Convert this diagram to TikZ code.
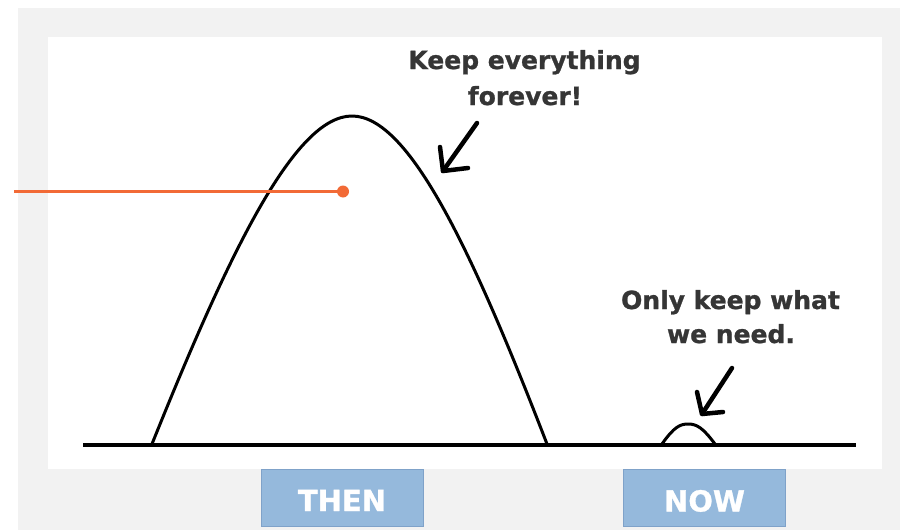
\documentclass[tikz,border=0pt]{standalone}
\usepackage{fontspec}
\setmainfont{DejaVu Sans}
\newfontfamily\heavyfont[BoldFeatures={FakeBold=1}]{DejaVu Sans}
\definecolor{panelgray}{HTML}{F2F2F2}
\definecolor{txtgray}{HTML}{353535}
\definecolor{boxblue}{HTML}{95B9DC}
\definecolor{boxedge}{HTML}{7FA2C9}
\definecolor{accent}{HTML}{F26A36}
\begin{document}
\begin{tikzpicture}[x=1pt,y=-1pt,
  lbl/.style={font=\fontsize{25}{30}\heavyfont\bfseries, text=txtgray, inner sep=0pt, anchor=base},
  tag/.style={draw=boxedge, line width=1pt, fill=boxblue, text=white,
    font=\fontsize{29}{34}\heavyfont\bfseries, minimum width=162pt, minimum height=57pt,
    inner sep=0pt, text height=27pt, text depth=0pt},
  pen/.style={line width=3pt, line cap=round, line join=round},
  hand/.style={line width=4.5pt, line cap=round, line join=round}]
\useasboundingbox (0,0) rectangle (900,530);
\fill[panelgray] (18,8) rectangle (900,530);
\fill[white] (48,37) rectangle (882,469);

% ground line and humps
\draw[line width=4pt] (83,444.5) -- (856,444.5);
\draw[pen] (152,444) .. controls (230,250) and (295,116) .. (352,116)
                     .. controls (409,116) and (472,250) .. (547,444);
\draw[pen] (662,444) .. controls (674,427) and (680,424) .. (688,424)
                     .. controls (697,424) and (703,428) .. (715,444);

% orange pointer
\coordinate (lstart) at (14,191.5);
\draw[accent, line width=3pt] (lstart) -- (343,191.5);
\node[circle, fill=accent, minimum size=12pt, inner sep=0pt] (dot) at (343,191.5) {};

% labels
\node[lbl] (keep1) at (524.5,69) {Keep everything};
\node[lbl] (keep2) at (525,105) {forever!};
\node[lbl] (only1) at (730.5,309) {Only keep what};
\node[lbl] (only2) at (731,343) {we need.};

% hand-drawn arrows
\coordinate (a1s) at (477,123);
\coordinate (a1t) at (443,171);
\draw[hand] (a1s) -- (a1t);
\draw[hand] (440,147) -- (a1t) -- (468,168);
\coordinate (a2s) at (732,368);
\coordinate (a2t) at (702,414);
\draw[hand] (a2s) -- (a2t);
\draw[hand] (697,392) -- (a2t) -- (723,412);

% tags
\node[tag] (then) at (342,497.5) {THEN};
\node[tag] (now) at (704.5,498) {NOW};
\end{tikzpicture}
\end{document}
